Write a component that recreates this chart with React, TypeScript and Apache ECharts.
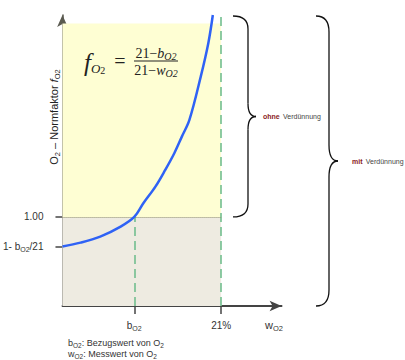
import React, { useEffect, useRef } from "react";
import * as echarts from "echarts";

// Measured O2 content w_O2 (%) and the resulting normalisation factor f_O2
const wO2 = [0, 2.4, 5.0, 7.7, 9.5, 10.7, 12.3, 13.6, 14.8, 15.8, 16.8, 18.3, 19.3, 19.9];
const fO2 = [0.543, 0.602, 0.695, 0.85, 1.0, 1.212, 1.47, 1.729, 1.988, 2.245, 2.504, 3.175, 3.693, 4.13];

// Reference O2 value b_O2 and the fixed 21 % mark
const bO2 = 9.5;
const airO2 = 21;
const fStart = 0.543; // 1 - b_O2/21
const fOne = 1;
const fTopBand = 4.0;

const xMin = 0;
const xMax = 29;
const yMin = -0.38;
const yMax = 4.13;

const SANS = "'Liberation Sans', Arial, sans-serif";
const SERIF = "'Liberation Serif', 'Times New Roman', serif";

const subRich = {
  t: { fontFamily: SANS, fontSize: 10, color: "#333", lineHeight: 14 },
  s: { fontFamily: SANS, fontSize: 7, color: "#333", verticalAlign: "bottom", lineHeight: 9 },
};

function brace(xl: number, xs: number, xt: number, y0: number, y1: number, r: number) {
  const ym = (y0 + y1) / 2;
  const st = { stroke: "#111", lineWidth: 1.3, fill: "none" };
  const base = { silent: true, z: 100 };
  return [
    { type: "bezierCurve", ...base, shape: { x1: xl, y1: y0, cpx1: xs, cpy1: y0, x2: xs, y2: y0 + r }, style: st },
    { type: "line", ...base, shape: { x1: xs, y1: y0 + r, x2: xs, y2: ym - r }, style: st },
    { type: "bezierCurve", ...base, shape: { x1: xs, y1: ym - r, cpx1: xs, cpy1: ym, x2: xt, y2: ym }, style: st },
    { type: "bezierCurve", ...base, shape: { x1: xt, y1: ym, cpx1: xs, cpy1: ym, x2: xs, y2: ym + r }, style: st },
    { type: "line", ...base, shape: { x1: xs, y1: ym + r, x2: xs, y2: y1 - r }, style: st },
    { type: "bezierCurve", ...base, shape: { x1: xs, y1: y1 - r, cpx1: xs, cpy1: y1, x2: xl, y2: y1 }, style: st },
  ];
}

export default function App() {
  const ref = useRef<HTMLDivElement>(null);

  useEffect(() => {
    if (!ref.current) return;
    const chart = echarts.init(ref.current, null, { renderer: "svg" });

    const option: any = {
      animation: false,
      grid: { left: 62, top: 15, bottom: 54, right: 123.4 },
      xAxis: {
        type: "value",
        min: xMin,
        max: xMax,
        splitLine: { show: false },
        axisLine: {
          onZero: false,
          lineStyle: { color: "#444", width: 1.8 },
          symbol: ["none", "arrow"],
          symbolSize: [8, 12],
        },
        axisTick: { show: true, customValues: [bO2, airO2], length: 8, inside: false, lineStyle: { color: "#444", width: 1.5 } },
        axisLabel: {
          customValues: [bO2, airO2],
          margin: 12,
          formatter: (v: number) => (Math.abs(v - airO2) < 1e-6 ? "{t|21%}" : "{t|b}{s|O2}"),
          rich: subRich,
        },
      },
      yAxis: {
        type: "value",
        min: yMin,
        max: yMax,
        splitLine: { show: false },
        axisLine: {
          onZero: false,
          lineStyle: { color: "#5a5a50", width: 1.5 },
          symbol: ["none", "arrow"],
          symbolSize: [8, 12],
        },
        axisTick: { show: true, customValues: [fStart, fOne], length: 7, lineStyle: { color: "#444", width: 1.5 } },
        axisLabel: {
          customValues: [fStart, fOne],
          margin: 19,
          formatter: (v: number) => (Math.abs(v - fOne) < 1e-6 ? "{t|1.00}" : "{t|1- b}{s|O2}{t|/21}"),
          rich: subRich,
        },
      },
      series: [
        {
          type: "line",
          data: wO2.map((w, i) => [w, fO2[i]]),
          smooth: 0.35,
          showSymbol: false,
          silent: true,
          z: 5,
          lineStyle: { color: "#2f62f5", width: 2.5 },
          markArea: {
            silent: true,
            label: { show: false },
            data: [
              [
                { coord: [xMin, fOne], itemStyle: { color: "#fefed3" } },
                { coord: [airO2, fTopBand] },
              ],
              [
                { coord: [xMin, yMin], itemStyle: { color: "#eeebe1" } },
                { coord: [airO2, fOne] },
              ],
            ],
          },
          markLine: {
            silent: true,
            symbol: "none",
            label: { show: false },
            data: [
              [
                { coord: [bO2, yMin], lineStyle: { color: "#72bf8f", width: 1.6, type: [9, 5] } },
                { coord: [bO2, fOne] },
              ],
              [
                { coord: [airO2, yMin], lineStyle: { color: "#72bf8f", width: 1.6, type: [9, 5] } },
                { coord: [airO2, yMax] },
              ],
              [
                { coord: [xMin, fOne], lineStyle: { color: "#8f8f6a", width: 1, type: [1, 1] } },
                { coord: [airO2, fOne] },
              ],
            ],
          },
        },
      ],
    };
    chart.setOption(option);

    const py = (v: number) => chart.convertToPixel({ gridIndex: 0 }, [0, v])[1];
    const yTop = py(yMax) + 1;
    const yOne = py(fOne);
    const yBase = py(yMin);

    const ink = "#222";
    const fracRich = {
      n: { fontFamily: SERIF, fontSize: 14, fill: ink, lineHeight: 16 },
      i: { fontFamily: SERIF, fontStyle: "italic", fontSize: 14, fill: ink, lineHeight: 16 },
      s: { fontFamily: SERIF, fontStyle: "italic", fontSize: 10, fill: ink, verticalAlign: "bottom", lineHeight: 10 },
    };
    const noteRich = {
      t: { fontFamily: SANS, fontSize: 9, fill: "#333", lineHeight: 12 },
      s: { fontFamily: SANS, fontSize: 6.5, fill: "#333", verticalAlign: "bottom", lineHeight: 8 },
    };
    const braceRich = {
      b: { fontFamily: SANS, fontSize: 7, fontWeight: "bold", fill: "#8b1c1c" },
      t: { fontFamily: SANS, fontSize: 7, fill: "#444" },
    };

    const graphic: any[] = [
      // formula f_O2 = (21 - b_O2) / (21 - w_O2)
      {
        type: "text",
        silent: true,
        z: 100,
        style: {
          x: 84, y: 62, text: "{f|f}{s|O}{n|2}", verticalAlign: "middle",
          rich: {
            f: { fontFamily: SERIF, fontStyle: "italic", fontSize: 25, fill: ink, lineHeight: 26 },
            s: { fontFamily: SERIF, fontStyle: "italic", fontSize: 13, fill: ink, verticalAlign: "bottom", lineHeight: 10 },
            n: { fontFamily: SERIF, fontSize: 10, fill: ink, verticalAlign: "bottom", lineHeight: 6 },
          },
        },
      },
      {
        type: "text",
        silent: true,
        z: 100,
        style: { x: 120, y: 61, text: "=", align: "center", verticalAlign: "middle", font: `20px ${SERIF}`, fill: ink },
      },
      {
        type: "text",
        silent: true,
        z: 100,
        style: { x: 156, y: 53, text: "{n|21−}{i|b}{s|O2}", align: "center", verticalAlign: "middle", rich: fracRich },
      },
      {
        type: "line",
        silent: true,
        z: 100,
        shape: { x1: 134, y1: 61, x2: 178, y2: 61 },
        style: { stroke: ink, lineWidth: 1 },
      },
      {
        type: "text",
        silent: true,
        z: 100,
        style: { x: 156, y: 70, text: "{n|21−}{i|w}{s|O2}", align: "center", verticalAlign: "middle", rich: fracRich },
      },
      // y axis title
      {
        type: "text",
        silent: true,
        z: 100,
        x: 54,
        y: 117,
        rotation: Math.PI / 2,
        style: {
          x: 0, y: 0, text: "{t|O}{s|2}{t| – Normfaktor }{i|f}{s|O2}", align: "center", verticalAlign: "middle",
          rich: {
            t: { fontFamily: SANS, fontSize: 11, fill: ink, lineHeight: 14 },
            i: { fontFamily: SANS, fontStyle: "italic", fontSize: 11, fill: ink, lineHeight: 14 },
            s: { fontFamily: SANS, fontSize: 7.5, fill: ink, verticalAlign: "bottom", lineHeight: 9 },
          },
        },
      },
      // x axis title
      {
        type: "text",
        silent: true,
        z: 100,
        style: {
          x: 265, y: 325, text: "{t|w}{s|O2}", verticalAlign: "middle",
          rich: {
            t: { fontFamily: SANS, fontSize: 11, fill: "#333", lineHeight: 14 },
            s: { fontFamily: SANS, fontSize: 7.5, fill: "#333", verticalAlign: "bottom", lineHeight: 9 },
          },
        },
      },
      // notes
      {
        type: "text",
        silent: true,
        z: 100,
        style: { x: 68, y: 343, text: "{t|b}{s|O2}{t|: Bezugswert von O}{s|2}", verticalAlign: "middle", rich: noteRich },
      },
      {
        type: "text",
        silent: true,
        z: 100,
        style: { x: 68, y: 354, text: "{t|w}{s|O2}{t|: Messwert von O}{s|2}", verticalAlign: "middle", rich: noteRich },
      },
      // braces
      ...brace(233, 248, 256, yTop, yOne, 13),
      ...brace(316, 329, 338, yTop, yBase, 16),
      {
        type: "text",
        silent: true,
        z: 100,
        style: { x: 263, y: (yTop + yOne) / 2, text: "{b|ohne} {t|Verdünnung}", verticalAlign: "middle", rich: braceRich },
      },
      {
        type: "text",
        silent: true,
        z: 100,
        style: { x: 352, y: (yTop + yBase) / 2, text: "{b|mit} {t|Verdünnung}", verticalAlign: "middle", rich: braceRich },
      },
    ];
    chart.setOption({ graphic });

    return () => chart.dispose();
  }, []);

  return (
    <div
      ref={ref}
      style={{ position: "absolute", left: 0, top: 0, width: 405, height: 360, background: "#fff" }}
    />
  );
}
